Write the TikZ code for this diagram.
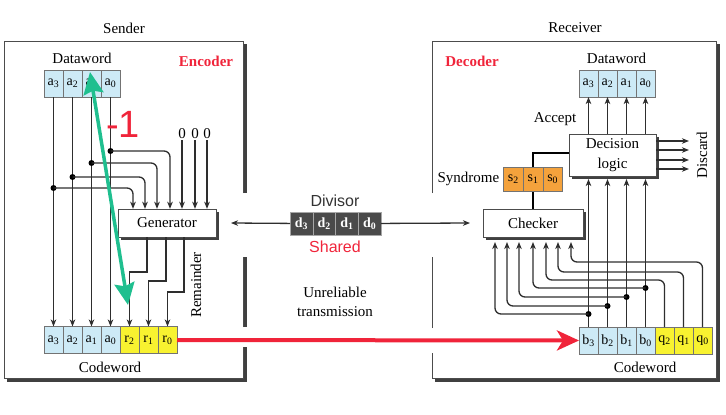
\documentclass[tikz,border=0pt]{standalone}
\usepackage{fontspec}
\setmainfont{Liberation Serif}
\setsansfont{Liberation Sans}
\usetikzlibrary{arrows,arrows.meta,positioning,shadows}
\definecolor{cellblue}{HTML}{CDEAF6}
\definecolor{cellyellow}{HTML}{F8F230}
\definecolor{cellorange}{HTML}{F4A23C}
\definecolor{divgray}{HTML}{4A4A4A}
\definecolor{wiregray}{HTML}{2E2E2E}
\definecolor{notered}{HTML}{F0243A}
\definecolor{notegreen}{HTML}{1FBF8F}

\begin{document}
\begin{tikzpicture}[x=1pt,y=-1pt,>={Stealth[length=7pt,width=5.5pt,inset=2pt]},node distance=0pt,
  txt/.style={font=\fontsize{15}{17}\selectfont,inner sep=1pt},
  tag/.style={font=\fontsize{15}{17}\selectfont\bfseries,text=notered,inner sep=1pt},
  cell/.style={draw=black!55,inner sep=0pt,outer sep=0pt,minimum width=19pt,
    minimum height=27pt,font=\fontsize{14}{16}\selectfont},
  blue cell/.style={cell,fill=cellblue},
  yellow cell/.style={cell,fill=cellyellow},
  syn cell/.style={cell,fill=cellorange,minimum width=19.7pt,minimum height=24pt},
  div cell/.style={cell,draw=black!35,fill=divgray,text=white,minimum width=22.75pt,
    minimum height=23pt,font=\fontsize{14}{16}\selectfont\bfseries},
  box/.style={draw=black!70,fill=white,inner sep=0pt,font=\fontsize{15}{17}\selectfont,
    drop shadow={shadow xshift=2.5pt,shadow yshift=-2.5pt,fill=black!75,opacity=1}},
  wire/.style={draw=wiregray,line width=1.3pt},
  dot/.style={circle,fill=black,inner sep=0pt,minimum size=6pt},
  panel/.style={draw=black!70,line width=0.8pt},
  panel shadow/.style={draw=black!75,line width=3pt}]

\useasboundingbox (0,0) rectangle (726,415);

% the two panels
\draw[panel] (243,193) |- (4,41) |- (243,378) -- (243,347) (243,327) -- (243,257);
\draw[panel shadow] (245,44) -- (245,193) (245,257) -- (245,327) (245,347) -- (245,380) -- (7,380);
\draw[panel] (432,193) |- (716,41) |- (432,378) -- (432,353) (432,328) -- (432,257);
\draw[panel shadow] (718,44) -- (718,380) -- (435,380);

% sender
\node[txt] (sender) at (124,28) {Sender};
\node[tag] (encoder) at (206,61) {Encoder};
\node[txt] (dwS) at (82,58) {Dataword};
\node[blue cell] (sa3) at (53.5,83.5) {a\textsubscript{3}};
\node[blue cell,right=of sa3] (sa2) {a\textsubscript{2}};
\node[blue cell,right=of sa2] (sa1) {a\textsubscript{1}};
\node[blue cell,right=of sa1] (sa0) {a\textsubscript{0}};
\node[blue cell] (ca3) at (53.5,340) {a\textsubscript{3}};
\node[blue cell,right=of ca3] (ca2) {a\textsubscript{2}};
\node[blue cell,right=of ca2] (ca1) {a\textsubscript{1}};
\node[blue cell,right=of ca1] (ca0) {a\textsubscript{0}};
\node[yellow cell,right=of ca0] (cr2) {r\textsubscript{2}};
\node[yellow cell,right=of cr2] (cr1) {r\textsubscript{1}};
\node[yellow cell,right=of cr1] (cr0) {r\textsubscript{0}};
\node[txt] (cwS) at (110,367) {Codeword};
\node[box,minimum width=98pt,minimum height=28pt] (gen) at (167,223) {Generator};
\node[txt,rotate=90] (rem) at (196,285) {Remainder};

\foreach \c in {a3,a2,a1,a0}
  \draw[wire,->] (s\c) -- (c\c);
\foreach \c/\y/\x in {a3/188/133,a2/177/145,a1/163/157,a0/151/170}{
  \node[dot] (t\c) at (s\c |- 0,\y) {};
  \draw[wire,->,rounded corners=6pt] (t\c.center) -| (\x,0 |- gen.north);
}
\foreach \x in {182,195,207}{
  \node[txt] (zero\x) at (\x,134) {0};
  \draw[wire,->] (zero\x) -- (zero\x |- gen.north);
}
\foreach \x/\y/\c in {147/272/r2,166/281/r1,184/292/r0}
  \draw[wire,->] (\x,0 |- gen.south) |- (c\c |- 0,\y) -- (c\c);

% shared divisor and channel
\node[div cell] (d3) at (301.4,223.5) {d\textsubscript{3}};
\node[div cell,right=of d3] (d2) {d\textsubscript{2}};
\node[div cell,right=of d2] (d1) {d\textsubscript{1}};
\node[div cell,right=of d1] (d0) {d\textsubscript{0}};
\node[font=\sffamily\fontsize{16}{18}\selectfont,text=black!80] (divisor) at (335,201) {Divisor};
\node[font=\sffamily\fontsize{16}{18}\selectfont,text=notered] (shared) at (335,247) {Shared};
\node[txt,align=center,font=\fontsize{15}{19}\selectfont] (chan) at (335,302) {Unreliable\\transmission};

% receiver
\node[txt] (receiver) at (575,28) {Receiver};
\node[tag] (decoder) at (472,61) {Decoder};
\node[txt] (dwR) at (616.5,58) {Dataword};
\node[blue cell] (rd3) at (588.5,83.5) {a\textsubscript{3}};
\node[blue cell,right=of rd3] (rd2) {a\textsubscript{2}};
\node[blue cell,right=of rd2] (rd1) {a\textsubscript{1}};
\node[blue cell,right=of rd1] (rd0) {a\textsubscript{0}};
\node[txt] (accept) at (555,119) {Accept};
\node[box,minimum width=87pt,minimum height=42pt,align=center,
  font=\fontsize{15}{20}\selectfont] (dec) at (612.5,155) {Decision\\logic};
\node[box,minimum width=100pt,minimum height=28pt] (chk) at (533,223) {Checker};
\draw[line width=2.8pt] (chk.north) -- (chk.north |- 0,153) -- (dec.west |- 0,153);
\node[syn cell] (s1) at (chk.north |- 0,179) {s\textsubscript{1}};
\node[syn cell,left=of s1] (s2) {s\textsubscript{2}};
\node[syn cell,right=of s1] (s0) {s\textsubscript{0}};
\node[txt,left=3pt of s2] (syndrome) {Syndrome};
\node[blue cell] (cb3) at (588.5,340.5) {b\textsubscript{3}};
\node[blue cell,right=of cb3] (cb2) {b\textsubscript{2}};
\node[blue cell,right=of cb2] (cb1) {b\textsubscript{1}};
\node[blue cell,right=of cb1] (cb0) {b\textsubscript{0}};
\node[yellow cell,right=of cb0] (cq2) {q\textsubscript{2}};
\node[yellow cell,right=of cq2] (cq1) {q\textsubscript{1}};
\node[yellow cell,right=of cq1] (cq0) {q\textsubscript{0}};
\node[txt] (cwR) at (645,367) {Codeword};
\node[txt,rotate=90] (discard) at (702,155) {Discard};
\coordinate (decin) at (0,179);
\coordinate (chkin) at (0,242);
\coordinate (discard end) at (689,155);

\foreach \i in {3,2,1,0}{
  \draw[wire,->] (rd\i |- dec.north) -- (rd\i);
  \draw[wire,->] (cb\i) -- (cb\i |- decin);
}
\foreach \y in {141,150,160,169}
  \draw[wire,->] (dec.east |- 0,\y) -- (discard end |- 0,\y);
\foreach \i/\y/\x in {3/314/495,2/306/507,1/297/519,0/288/533}{
  \node[dot] (tb\i) at (cb\i |- 0,\y) {};
  \draw[wire,->,rounded corners=6pt] (tb\i.center) -| (\x,0 |- chkin);
}
\foreach \i/\y/\x in {2/280/546,1/272/558,0/262/571}
  \draw[wire,->,rounded corners=6pt] (cq\i) |- (\x,\y) -- (\x,0 |- chkin);

\draw[wire,->] (d3) -- (gen.east -| 231,0);
\draw[wire,->] (d0) -- (chk.west -| 470,0);

% annotations
\draw[notered,line width=4pt,-{Stealth[length=22pt,width=20pt,inset=6pt]}] (cr0) -- (cb3);
\node[font=\sffamily\fontsize{38}{40}\selectfont,text=notered] (minus one) at (123,124) {-1};
\coordinate (gtop) at (90,72);
\coordinate (gbot) at (128,305);
\draw[notegreen,line width=3.5pt,{Stealth[length=22pt,width=20pt,inset=3pt]}-{Stealth[length=22pt,width=20pt,inset=3pt]}] (gbot) -- (gtop);

\end{tikzpicture}
\end{document}
